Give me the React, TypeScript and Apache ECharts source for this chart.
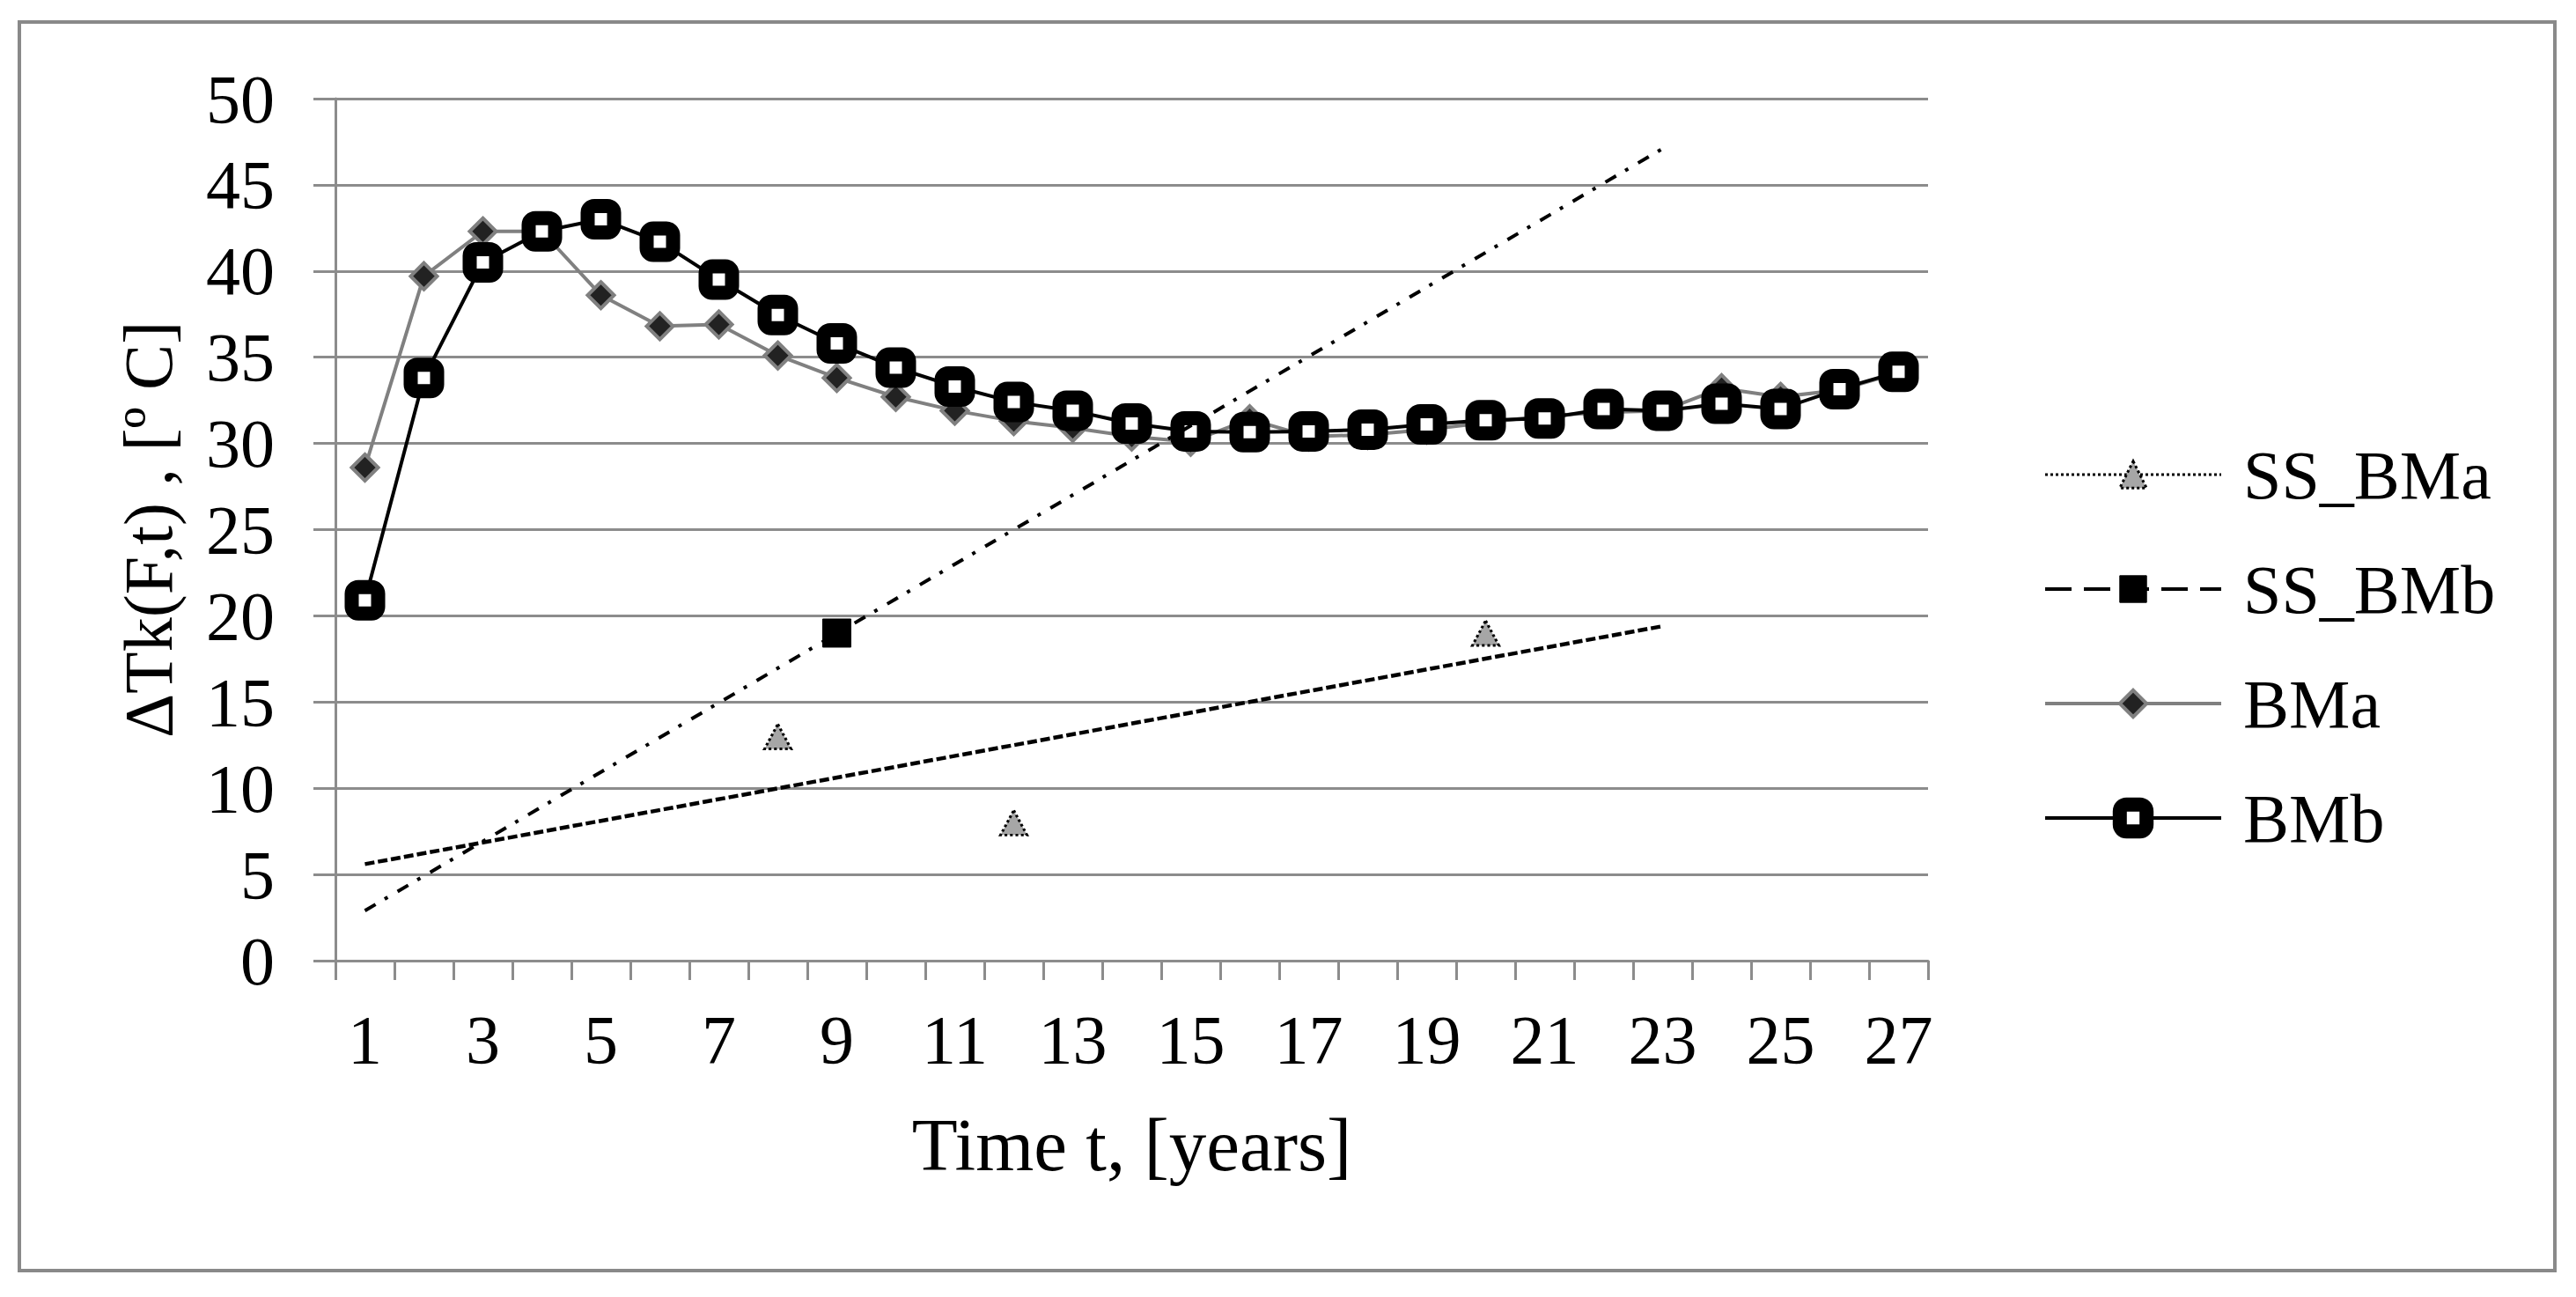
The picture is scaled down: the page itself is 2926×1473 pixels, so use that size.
import React, { useEffect, useRef } from "react";
import * as echarts from "echarts";

const categories = [
  "1", "2", "3", "4", "5", "6", "7", "8", "9", "10", "11", "12", "13", "14",
  "15", "16", "17", "18", "19", "20", "21", "22", "23", "24", "25", "26", "27",
];

const yTicks = [0, 5, 10, 15, 20, 25, 30, 35, 40, 45, 50];

const bmaValues = [
  28.6, 39.7, 42.3, 42.3, 38.6, 36.8, 36.9, 35.1, 33.8, 32.7, 31.9, 31.3, 30.9, 30.4,
  30.1, 31.4, 30.4, 30.5, 30.8, 31.2, 31.6, 31.8, 31.9, 33.2, 32.7, 33.1, 34.1,
];

const bmbValues = [
  20.9, 33.8, 40.5, 42.3, 43.0, 41.7, 39.5, 37.45, 35.8, 34.4, 33.3, 32.4, 31.9, 31.15,
  30.7, 30.65, 30.7, 30.8, 31.1, 31.35, 31.45, 32.0, 31.9, 32.3, 32.0, 33.15, 34.15,
];

const ssBmaValues = [
  null, null, null, null, null, null, null, 13, null, null, null, 8, null, null,
  null, null, null, null, null, 19, null, null, null, null, null, null, null,
];

const ssBmbValues = [
  null, null, null, null, null, null, null, null, 19, null, null, null, null, null,
  null, null, null, null, null, null, null, null, null, null, null, null, null,
];

// trendline end points (category 1 and category 23)
const trendSsBma = [
  5.6, null, null, null, null, null, null, null, null, null, null, null, null, null,
  null, null, null, null, null, null, null, null, 19.4, null, null, null, null,
];

const trendSsBmb = [
  2.9, null, null, null, null, null, null, null, null, null, null, null, null, null,
  null, null, null, null, null, null, null, null, 47.1, null, null, null, null,
];

const FONT = "'Liberation Serif', 'Times New Roman', serif";
const GRAY = "#8c8c8c";

const ssBmaItem = { color: "#a6a6a6", borderColor: "#000", borderWidth: 3, borderType: [3, 3] };
const ssBmaLine = { color: "#000", width: 3, type: [3, 3] };
const ssBmbItem = { color: "#000", borderColor: "#000", borderWidth: 1 };
const ssBmbLine = { color: "#000", width: 4, type: [30, 14] };
const bmaItem = { color: "#222222", borderColor: "#808080", borderWidth: 4 };
const bmaLine = { color: "#808080", width: 4 };
const bmbItem = { color: "#ffffff", borderColor: "#000", borderWidth: 16 };
const bmbLine = { color: "#000", width: 4 };

export default function App() {
  const ref = useRef<HTMLDivElement>(null);

  useEffect(() => {
    if (!ref.current) return;
    const chart = echarts.init(ref.current, undefined, { renderer: "svg" });
    chart.setOption({
      animation: false,
      backgroundColor: "#ffffff",
      graphic: [
        {
          type: "rect",
          silent: true,
          z: -10,
          shape: { x: 22, y: 25, width: 2880, height: 1418 },
          style: { fill: "none", stroke: "#898989", lineWidth: 4 },
        },
      ],
      grid: { left: 381, right: 736, top: 112, bottom: 382 },
      legend: {
        orient: "vertical",
        left: 2316,
        top: 495,
        itemWidth: 200,
        itemHeight: 38,
        itemGap: 52,
        itemStyle: { borderWidth: "inherit" },
        lineStyle: { width: "inherit" },
        data: [
          { name: "SS_BMa", itemStyle: ssBmaItem, lineStyle: ssBmaLine },
          { name: "SS_BMb", itemStyle: ssBmbItem, lineStyle: ssBmbLine },
          { name: "BMa", itemStyle: bmaItem, lineStyle: bmaLine },
          { name: "BMb", itemStyle: bmbItem, lineStyle: bmbLine },
        ],
        textStyle: {
          fontFamily: FONT,
          fontSize: 78,
          color: "#000",
          padding: [0, 0, 0, 20],
        },
      },
      xAxis: {
        type: "category",
        data: categories,
        boundaryGap: true,
        name: "Time t, [years]",
        nameLocation: "middle",
        nameGap: 166,
        nameTextStyle: { fontFamily: FONT, fontSize: 85, color: "#000" },
        axisLine: { show: true, lineStyle: { color: GRAY, width: 3 } },
        axisTick: { show: true, interval: 0, length: 22, lineStyle: { color: GRAY, width: 3 } },
        axisLabel: {
          interval: 1,
          margin: 50,
          fontFamily: FONT,
          fontSize: 78,
          color: "#000",
        },
        splitLine: { show: false },
      },
      yAxis: {
        type: "value",
        min: yTicks[0],
        max: yTicks[yTicks.length - 1],
        interval: 5,
        name: "ΔTk(F,t) , [º C]",
        nameLocation: "middle",
        nameRotate: 90,
        nameGap: 174,
        nameTextStyle: { fontFamily: FONT, fontSize: 78, color: "#000" },
        axisLine: { show: true, lineStyle: { color: GRAY, width: 3 } },
        axisTick: { show: true, length: 25, lineStyle: { color: GRAY, width: 3 } },
        axisLabel: { margin: 69, fontFamily: FONT, fontSize: 78, color: "#000" },
        splitLine: { show: true, lineStyle: { color: GRAY, width: 3 } },
      },
      series: [
        {
          name: "SS_BMa",
          type: "line",
          data: ssBmaValues,
          connectNulls: false,
          showAllSymbol: true,
          symbol: "triangle",
          symbolSize: [30, 28],
          z: 3,
          itemStyle: ssBmaItem,
          lineStyle: ssBmaLine,
        },
        {
          name: "SS_BMb",
          type: "line",
          data: ssBmbValues,
          connectNulls: false,
          showAllSymbol: true,
          symbol: "rect",
          symbolSize: 32,
          z: 3,
          itemStyle: ssBmbItem,
          lineStyle: ssBmbLine,
        },
        {
          name: "BMa",
          type: "line",
          data: bmaValues,
          showAllSymbol: true,
          symbol: "diamond",
          symbolSize: 30,
          z: 4,
          itemStyle: bmaItem,
          lineStyle: bmaLine,
        },
        {
          name: "BMb",
          type: "line",
          data: bmbValues,
          showAllSymbol: true,
          symbol: "roundRect",
          symbolSize: 30,
          z: 5,
          itemStyle: bmbItem,
          lineStyle: bmbLine,
        },
        {
          name: "trend SS_BMa",
          type: "line",
          data: trendSsBma,
          connectNulls: true,
          symbol: "none",
          z: 8,
          silent: true,
          lineStyle: { color: "#000", width: 4.5, type: [11, 4] },
        },
        {
          name: "trend SS_BMb",
          type: "line",
          data: trendSsBmb,
          connectNulls: true,
          symbol: "none",
          z: 8,
          silent: true,
          lineStyle: { color: "#000", width: 4, type: [14, 12, 4, 13] },
        },
      ],
    });
    return () => chart.dispose();
  }, []);

  return (
    <div
      ref={ref}
      style={{ position: "fixed", left: 0, top: 0, width: 2926, height: 1473, background: "#fff" }}
    />
  );
}
